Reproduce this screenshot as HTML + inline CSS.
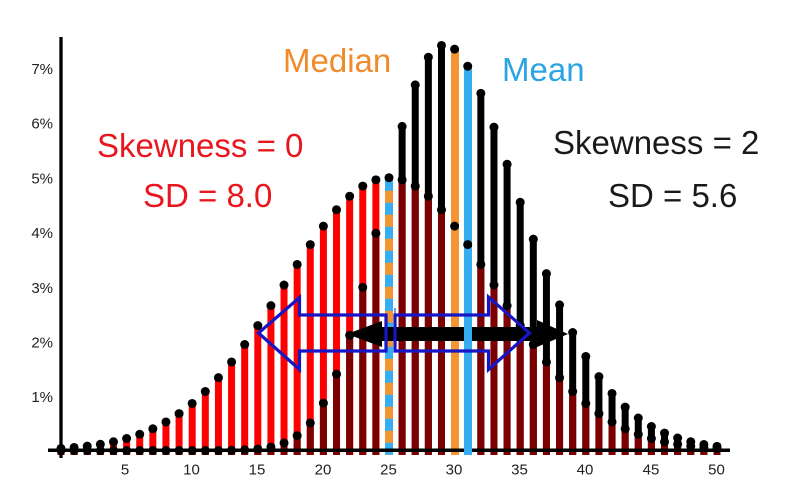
<!DOCTYPE html>
<html><head><meta charset="utf-8"><style>
html,body{margin:0;padding:0;background:#fff;}
svg{display:block;}
text{font-family:"Liberation Sans",Arial,sans-serif;}
</style></head><body>
<svg width="800" height="499" viewBox="0 0 800 499" xmlns="http://www.w3.org/2000/svg">
<rect width="800" height="499" fill="#fff"/>
<g>
<rect x="57.5" y="448.43" width="7" height="6.57" fill="#ff0000"/>
<rect x="70.62" y="447.47" width="7" height="7.53" fill="#ff0000"/>
<rect x="83.74" y="446.13" width="7" height="8.87" fill="#ff0000"/>
<rect x="96.86" y="444.28" width="7" height="10.72" fill="#ff0000"/>
<rect x="109.98" y="441.8" width="7" height="13.2" fill="#ff0000"/>
<rect x="123.1" y="438.52" width="7" height="16.48" fill="#ff0000"/>
<rect x="136.22" y="434.25" width="7" height="20.75" fill="#ff0000"/>
<rect x="149.34" y="428.8" width="7" height="26.2" fill="#ff0000"/>
<rect x="162.46" y="421.97" width="7" height="33.03" fill="#ff0000"/>
<rect x="175.58" y="413.58" width="7" height="41.42" fill="#ff0000"/>
<rect x="188.7" y="403.47" width="7" height="51.53" fill="#ff0000"/>
<rect x="201.82" y="391.51" width="7" height="63.49" fill="#ff0000"/>
<rect x="214.94" y="377.66" width="7" height="77.34" fill="#ff0000"/>
<rect x="228.06" y="361.94" width="7" height="93.06" fill="#ff0000"/>
<rect x="241.18" y="344.51" width="7" height="110.49" fill="#ff0000"/>
<rect x="254.3" y="325.61" width="7" height="129.39" fill="#ff0000"/>
<rect x="267.42" y="305.63" width="7" height="149.37" fill="#ff0000"/>
<rect x="280.54" y="285.05" width="7" height="169.95" fill="#ff0000"/>
<rect x="293.66" y="264.48" width="7" height="190.52" fill="#ff0000"/>
<rect x="306.78" y="244.6" width="7" height="210.4" fill="#ff0000"/>
<rect x="319.9" y="226.12" width="7" height="228.88" fill="#ff0000"/>
<rect x="333.02" y="209.78" width="7" height="245.22" fill="#ff0000"/>
<rect x="346.14" y="196.24" width="7" height="258.76" fill="#ff0000"/>
<rect x="359.26" y="186.11" width="7" height="268.89" fill="#ff0000"/>
<rect x="372.38" y="179.85" width="7" height="275.15" fill="#ff0000"/>
</g>
<g fill="#7d0000">
<rect x="57.5" y="450.5" width="7" height="4.5"/>
<rect x="70.62" y="450.5" width="7" height="4.5"/>
<rect x="83.74" y="450.5" width="7" height="4.5"/>
<rect x="96.86" y="450.5" width="7" height="4.5"/>
<rect x="109.98" y="450.5" width="7" height="4.5"/>
<rect x="123.1" y="450.5" width="7" height="4.5"/>
<rect x="136.22" y="450.5" width="7" height="4.5"/>
<rect x="149.34" y="450.5" width="7" height="4.5"/>
<rect x="162.46" y="450.5" width="7" height="4.5"/>
<rect x="175.58" y="450.5" width="7" height="4.5"/>
<rect x="188.7" y="450.5" width="7" height="4.5"/>
<rect x="201.82" y="450.5" width="7" height="4.5"/>
<rect x="214.94" y="450.5" width="7" height="4.5"/>
<rect x="228.06" y="450.26" width="7" height="4.74"/>
<rect x="241.18" y="449.87" width="7" height="5.13"/>
<rect x="254.3" y="448.95" width="7" height="6.05"/>
<rect x="267.42" y="446.96" width="7" height="8.04"/>
<rect x="280.54" y="442.97" width="7" height="12.03"/>
<rect x="293.66" y="435.6" width="7" height="19.4"/>
<rect x="306.78" y="422.99" width="7" height="32.01"/>
<rect x="319.9" y="403.09" width="7" height="51.91"/>
<rect x="333.02" y="374.12" width="7" height="80.88"/>
<rect x="346.14" y="335.26" width="7" height="119.74"/>
<rect x="359.26" y="287.35" width="7" height="167.65"/>
<rect x="372.38" y="233.28" width="7" height="221.72"/>
</g>
<g fill="#000">
<rect x="398.62" y="126.42" width="7" height="328.58"/>
<rect x="411.74" y="84.87" width="7" height="370.13"/>
<rect x="424.86" y="57.23" width="7" height="397.77"/>
<rect x="437.98" y="45.44" width="7" height="409.56"/>
<rect x="477.34" y="93.36" width="7" height="361.64"/>
<rect x="490.46" y="127.13" width="7" height="327.87"/>
<rect x="503.58" y="164.3" width="7" height="290.7"/>
<rect x="516.7" y="202.27" width="7" height="252.73"/>
<rect x="529.82" y="239.15" width="7" height="215.85"/>
<rect x="542.94" y="273.62" width="7" height="181.38"/>
<rect x="556.06" y="304.9" width="7" height="150.1"/>
<rect x="569.18" y="332.55" width="7" height="122.45"/>
<rect x="582.3" y="356.45" width="7" height="98.55"/>
<rect x="595.42" y="376.66" width="7" height="78.34"/>
<rect x="608.54" y="393.44" width="7" height="61.56"/>
<rect x="621.66" y="407.1" width="7" height="47.9"/>
<rect x="634.78" y="418.0" width="7" height="37"/>
<rect x="647.9" y="426.54" width="7" height="28.46"/>
<rect x="661.02" y="433.1" width="7" height="21.9"/>
<rect x="674.14" y="438.06" width="7" height="16.94"/>
<rect x="687.26" y="441.76" width="7" height="13.24"/>
<rect x="700.38" y="444.44" width="7" height="10.56"/>
<rect x="713.5" y="446.36" width="7" height="8.64"/>
</g>
<g fill="#7d0000">
<rect x="398.62" y="179.85" width="7" height="275.15"/>
<rect x="411.74" y="186.11" width="7" height="268.89"/>
<rect x="424.86" y="196.24" width="7" height="258.76"/>
<rect x="437.98" y="209.78" width="7" height="245.22"/>
<rect x="477.34" y="264.48" width="7" height="190.52"/>
<rect x="490.46" y="285.05" width="7" height="169.95"/>
<rect x="503.58" y="305.63" width="7" height="149.37"/>
<rect x="516.7" y="325.61" width="7" height="129.39"/>
<rect x="529.82" y="344.51" width="7" height="110.49"/>
<rect x="542.94" y="361.94" width="7" height="93.06"/>
<rect x="556.06" y="377.66" width="7" height="77.34"/>
<rect x="569.18" y="391.51" width="7" height="63.49"/>
<rect x="582.3" y="403.47" width="7" height="51.53"/>
<rect x="595.42" y="413.58" width="7" height="41.42"/>
<rect x="608.54" y="421.97" width="7" height="33.03"/>
<rect x="621.66" y="428.8" width="7" height="26.2"/>
<rect x="634.78" y="434.25" width="7" height="20.75"/>
<rect x="647.9" y="438.52" width="7" height="16.48"/>
<rect x="661.02" y="441.8" width="7" height="13.2"/>
<rect x="674.14" y="444.28" width="7" height="10.72"/>
<rect x="687.26" y="446.13" width="7" height="8.87"/>
<rect x="700.38" y="447.47" width="7" height="7.53"/>
<rect x="713.5" y="448.43" width="7" height="6.57"/>
</g>
<rect x="385" y="177.72" width="8" height="277.28" fill="#35adf0"/>
<line x1="389" y1="190.7" x2="389" y2="455" stroke="#f39632" stroke-width="8" stroke-dasharray="12 12"/>
<rect x="451" y="49.15" width="8" height="405.85" fill="#f39632"/>
<line x1="61" y1="37" x2="61" y2="458" stroke="#000" stroke-width="3.3"/>
<line x1="48" y1="450.3" x2="730" y2="450.3" stroke="#000" stroke-width="3.5"/>
<polygon points="347,334 382,321 382,327 537,327 537,320 568,334 537,347 537,341 382,341 382,347" fill="#000"/>
<rect x="464" y="66.21" width="8" height="388.79" fill="#35adf0"/>
<g fill="#000">
<circle cx="61" cy="448.43" r="4.5"/><circle cx="74.12" cy="447.47" r="4.5"/><circle cx="87.24" cy="446.13" r="4.5"/><circle cx="100.36" cy="444.28" r="4.5"/><circle cx="113.48" cy="441.8" r="4.5"/><circle cx="126.6" cy="438.52" r="4.5"/><circle cx="139.72" cy="434.25" r="4.5"/><circle cx="152.84" cy="428.8" r="4.5"/><circle cx="165.96" cy="421.97" r="4.5"/><circle cx="179.08" cy="413.58" r="4.5"/><circle cx="192.2" cy="403.47" r="4.5"/><circle cx="205.32" cy="391.51" r="4.5"/><circle cx="218.44" cy="377.66" r="4.5"/><circle cx="231.56" cy="361.94" r="4.5"/><circle cx="244.68" cy="344.51" r="4.5"/><circle cx="257.8" cy="325.61" r="4.5"/><circle cx="270.92" cy="305.63" r="4.5"/><circle cx="284.04" cy="285.05" r="4.5"/><circle cx="297.16" cy="264.48" r="4.5"/><circle cx="310.28" cy="244.6" r="4.5"/><circle cx="323.4" cy="226.12" r="4.5"/><circle cx="336.52" cy="209.78" r="4.5"/><circle cx="349.64" cy="196.24" r="4.5"/><circle cx="362.76" cy="186.11" r="4.5"/><circle cx="375.88" cy="179.85" r="4.5"/><circle cx="389" cy="177.72" r="4.5"/><circle cx="402.12" cy="179.85" r="4.5"/><circle cx="415.24" cy="186.11" r="4.5"/><circle cx="428.36" cy="196.24" r="4.5"/><circle cx="441.48" cy="209.78" r="4.5"/><circle cx="454.6" cy="226.12" r="4.5"/><circle cx="467.72" cy="244.6" r="4.5"/><circle cx="480.84" cy="264.48" r="4.5"/><circle cx="493.96" cy="285.05" r="4.5"/><circle cx="507.08" cy="305.63" r="4.5"/><circle cx="520.2" cy="325.61" r="4.5"/><circle cx="533.32" cy="344.51" r="4.5"/><circle cx="546.44" cy="361.94" r="4.5"/><circle cx="559.56" cy="377.66" r="4.5"/><circle cx="572.68" cy="391.51" r="4.5"/><circle cx="585.8" cy="403.47" r="4.5"/><circle cx="598.92" cy="413.58" r="4.5"/><circle cx="612.04" cy="421.97" r="4.5"/><circle cx="625.16" cy="428.8" r="4.5"/><circle cx="638.28" cy="434.25" r="4.5"/><circle cx="651.4" cy="438.52" r="4.5"/><circle cx="664.52" cy="441.8" r="4.5"/><circle cx="677.64" cy="444.28" r="4.5"/><circle cx="690.76" cy="446.13" r="4.5"/><circle cx="703.88" cy="447.47" r="4.5"/><circle cx="717" cy="448.43" r="4.5"/>
<circle cx="61" cy="450.5" r="4.5"/><circle cx="74.12" cy="450.5" r="4.5"/><circle cx="87.24" cy="450.5" r="4.5"/><circle cx="100.36" cy="450.5" r="4.5"/><circle cx="113.48" cy="450.5" r="4.5"/><circle cx="126.6" cy="450.5" r="4.5"/><circle cx="139.72" cy="450.5" r="4.5"/><circle cx="152.84" cy="450.5" r="4.5"/><circle cx="165.96" cy="450.5" r="4.5"/><circle cx="179.08" cy="450.5" r="4.5"/><circle cx="192.2" cy="450.5" r="4.5"/><circle cx="205.32" cy="450.5" r="4.5"/><circle cx="218.44" cy="450.5" r="4.5"/><circle cx="231.56" cy="450.26" r="4.5"/><circle cx="244.68" cy="449.87" r="4.5"/><circle cx="257.8" cy="448.95" r="4.5"/><circle cx="270.92" cy="446.96" r="4.5"/><circle cx="284.04" cy="442.97" r="4.5"/><circle cx="297.16" cy="435.6" r="4.5"/><circle cx="310.28" cy="422.99" r="4.5"/><circle cx="323.4" cy="403.09" r="4.5"/><circle cx="336.52" cy="374.12" r="4.5"/><circle cx="349.64" cy="335.26" r="4.5"/><circle cx="362.76" cy="287.35" r="4.5"/><circle cx="375.88" cy="233.28" r="4.5"/><circle cx="402.12" cy="126.42" r="4.5"/><circle cx="415.24" cy="84.87" r="4.5"/><circle cx="428.36" cy="57.23" r="4.5"/><circle cx="441.48" cy="45.44" r="4.5"/><circle cx="454.6" cy="49.15" r="4.5"/><circle cx="467.72" cy="66.21" r="4.5"/><circle cx="480.84" cy="93.36" r="4.5"/><circle cx="493.96" cy="127.13" r="4.5"/><circle cx="507.08" cy="164.3" r="4.5"/><circle cx="520.2" cy="202.27" r="4.5"/><circle cx="533.32" cy="239.15" r="4.5"/><circle cx="546.44" cy="273.62" r="4.5"/><circle cx="559.56" cy="304.9" r="4.5"/><circle cx="572.68" cy="332.55" r="4.5"/><circle cx="585.8" cy="356.45" r="4.5"/><circle cx="598.92" cy="376.66" r="4.5"/><circle cx="612.04" cy="393.44" r="4.5"/><circle cx="625.16" cy="407.1" r="4.5"/><circle cx="638.28" cy="418.0" r="4.5"/><circle cx="651.4" cy="426.54" r="4.5"/><circle cx="664.52" cy="433.1" r="4.5"/><circle cx="677.64" cy="438.06" r="4.5"/><circle cx="690.76" cy="441.76" r="4.5"/><circle cx="703.88" cy="444.44" r="4.5"/><circle cx="717" cy="446.36" r="4.5"/>
</g>
<g fill="none" stroke="#1616c4" stroke-width="3.2" stroke-linejoin="miter">
<polygon points="386,315 299.5,315 299.5,297.5 258.5,333 299.5,369.5 299.5,351 386,351"/>
<polygon points="395,315 488.5,315 488.5,297 529.5,333 488.5,369.5 488.5,351 395,351"/>
</g>
<line x1="395" y1="308" x2="395" y2="315" stroke="#1616c4" stroke-width="1"/>
<g font-size="15" fill="#222" text-anchor="end">
<text x="53" y="74">7%</text>
<text x="53" y="128.7">6%</text>
<text x="53" y="183.4">5%</text>
<text x="53" y="238.1">4%</text>
<text x="53" y="292.8">3%</text>
<text x="53" y="347.5">2%</text>
<text x="53" y="402.2">1%</text>
</g>
<g font-size="15" fill="#222" text-anchor="middle">
<text x="125" y="474.5">5</text>
<text x="191.5" y="474.5">10</text>
<text x="257" y="474.5">15</text>
<text x="323" y="474.5">20</text>
<text x="388.5" y="474.5">25</text>
<text x="454" y="474.5">30</text>
<text x="519.5" y="474.5">35</text>
<text x="585" y="474.5">40</text>
<text x="651" y="474.5">45</text>
<text x="716.5" y="474.5">50</text>
</g>
<g font-size="33">
<text x="283" y="72" fill="#f08a2b">Median</text>
<text x="502" y="81" fill="#2aa4e2">Mean</text>
<text x="97" y="157" fill="#e8161e">Skewness = 0</text>
<text x="143" y="207" fill="#e8161e">SD = 8.0</text>
<text x="553" y="154" fill="#1a1a1a">Skewness = 2</text>
<text x="608" y="207" fill="#1a1a1a">SD = 5.6</text>
</g>
</svg>
</body></html>
